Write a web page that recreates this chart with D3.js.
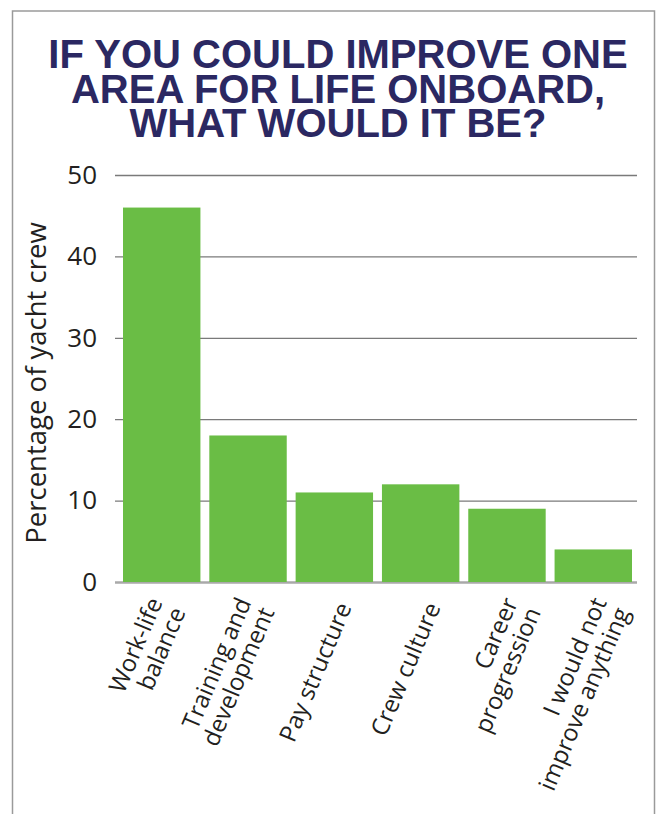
<!DOCTYPE html>
<html>
<head>
<meta charset="utf-8">
<script src="https://cdn.jsdelivr.net/npm/d3@7/dist/d3.min.js"></script>
<style>
  html, body { margin: 0; padding: 0; background: #ffffff; }
  svg { display: block; }
</style>
</head>
<body>
<svg id="chart" width="660" height="814"></svg>
<script>
// Survey answers: share of yacht crew choosing each area to improve
const categories = [
  ["Work-life", "balance"],
  ["Training and", "development"],
  ["Pay structure"],
  ["Crew culture"],
  ["Career", "progression"],
  ["I would not", "improve anything"]
];
const values = [46, 18, 11, 12, 9, 4];
const yTicks = [0, 10, 20, 30, 40, 50];
const titleLines = ["IF YOU COULD IMPROVE ONE", "AREA FOR LIFE ONBOARD,", "WHAT WOULD IT BE?"];
const yAxisTitle = "Percentage of yacht crew";

const svg = d3.select("#chart");
const axisFont = "'Open Sans', 'Noto Sans', sans-serif";
const textColor = "#231f20";
const barColor = "#6abd45";
const titleColor = "#2b2862";

// Frame around the whole graphic
svg.append("rect")
  .attr("x", 12.5).attr("y", 11)
  .attr("width", 642).attr("height", 830)
  .attr("fill", "none")
  .attr("stroke", "#9a9a9a")
  .attr("stroke-width", 1.5);

// Title: one text block, tightly leaded lines
svg.append("text")
  .attr("text-anchor", "middle")
  .attr("font-family", "'Liberation Sans', Arial, sans-serif")
  .attr("font-weight", "bold")
  .attr("font-size", 40)
  .attr("fill", titleColor)
  .selectAll("tspan")
  .data(titleLines)
  .join("tspan")
  .attr("x", 338)
  .attr("y", (d, i) => 68 + i * 34.5)
  .text(d => d);

// Scales
const y = d3.scaleLinear().domain([0, 50]).range([582, 175]);
const x = d3.scaleBand()
  .domain(d3.range(categories.length))
  .range([123, 632])
  .paddingInner(0.103)
  .paddingOuter(0);

const gridX0 = 115, gridX1 = 637;

// Gridlines and value labels on the left
const yAxis = d3.axisLeft(y)
  .tickValues(yTicks)
  .tickSize(-(gridX1 - gridX0))
  .tickPadding(18)
  .tickFormat(d3.format("d"));

const gy = svg.append("g")
  .attr("transform", `translate(${gridX0},0)`)
  .call(yAxis);
gy.select(".domain").remove();
gy.selectAll(".tick line")
  .attr("stroke", d => d === 0 ? "#a9a9a9" : "#7a7a7a")
  .attr("stroke-width", d => d === 0 ? 2.5 : 1.3);
gy.selectAll(".tick text")
  .attr("font-family", axisFont)
  .attr("font-size", 26)
  .attr("fill", textColor);

// Bars
svg.append("g")
  .selectAll("rect")
  .data(values)
  .join("rect")
  .attr("x", (d, i) => x(i))
  .attr("y", d => y(d))
  .attr("width", x.bandwidth())
  .attr("height", d => y(0) - y(d))
  .attr("fill", barColor);

// Y axis title
svg.append("text")
  .attr("transform", `translate(46,383) rotate(-90)`)
  .attr("text-anchor", "middle")
  .attr("font-family", axisFont)
  .attr("font-size", 27.5)
  .attr("fill", textColor)
  .text(yAxisTitle);

// Slanted category labels under the bars
const angle = -67;
const lineH = 25;
const nx = Math.sin(-angle * Math.PI / 180), ny = Math.cos(-angle * Math.PI / 180);
const labels = svg.append("g");
categories.forEach((lines, i) => {
  const cx = x(i) + x.bandwidth() / 2 + 19 + (i - 2.5) * 2.5;
  const cy = 607;
  lines.forEach((line, j) => {
    const off = (j - (lines.length - 1) / 2) * lineH;
    labels.append("text")
      .attr("transform", `translate(${cx + off * nx},${cy + off * ny}) rotate(${angle})`)
      .attr("text-anchor", "end")
      .attr("font-family", axisFont)
      .attr("font-size", 24)
      .attr("fill", textColor)
      .text(line);
  });
});
</script>
</body>
</html>
